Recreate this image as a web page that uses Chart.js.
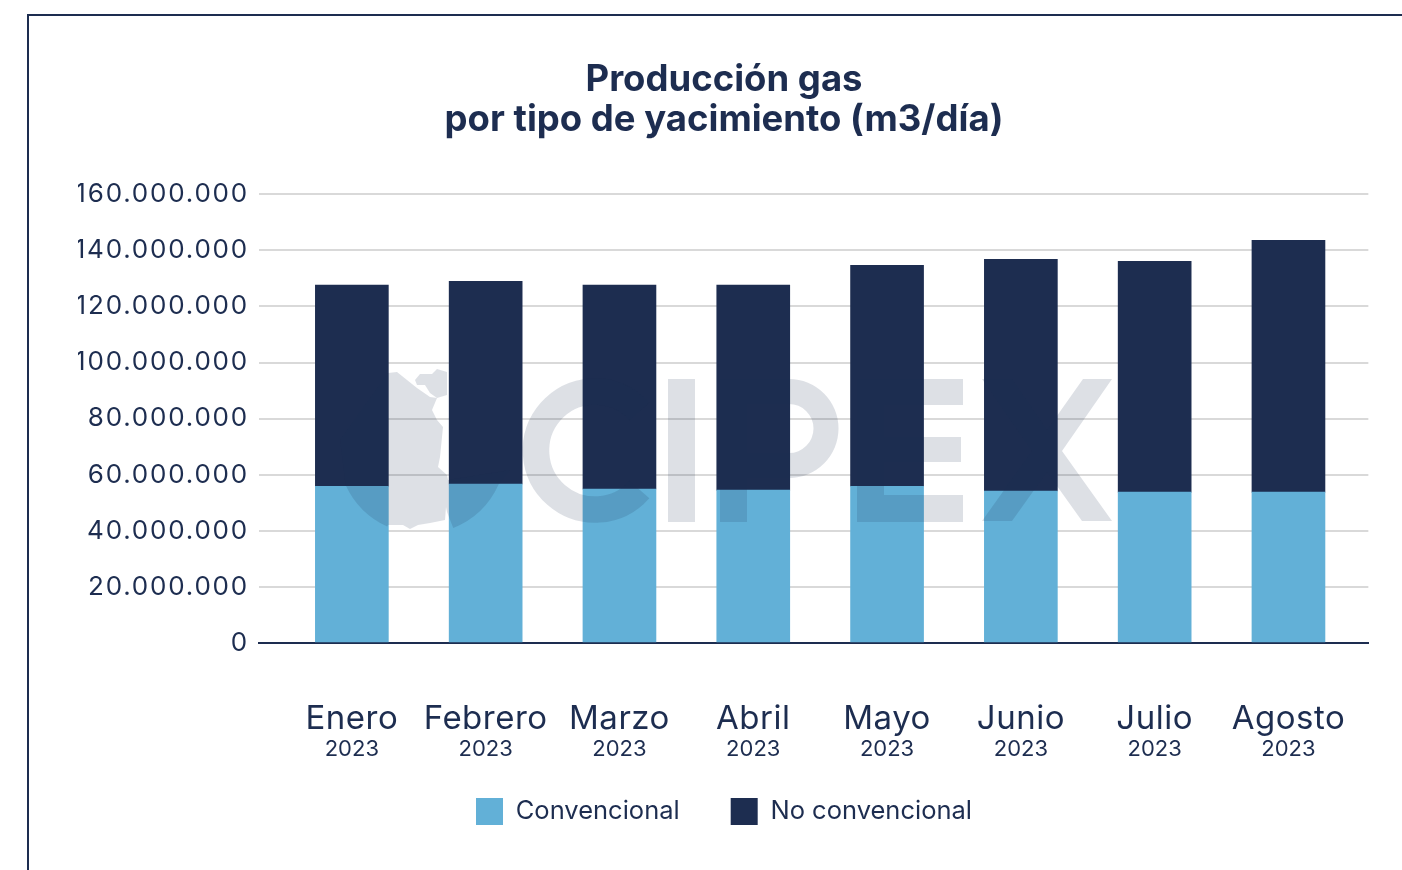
<!DOCTYPE html>
<html><head><meta charset="utf-8">
<style>html,body{margin:0;padding:0;background:#fff}#w{position:relative;width:1402px;height:870px;overflow:hidden}canvas{position:absolute;left:0;top:0}</style>
<script src="https://cdn.jsdelivr.net/npm/chart.js@4"></script></head>
<body><div id="w"><canvas id="c" width="1402" height="870"></canvas></div>
<script>
const months=['Enero','Febrero','Marzo','Abril','Mayo','Junio','Julio','Agosto'];
const years=['2023','2023','2023','2023','2023','2023','2023','2023'];
const convencional=[55900000,56700000,54900000,54500000,55900000,54200000,53800000,53800000];
const noConvencional=[71700000,72300000,72700000,73100000,78800000,82600000,82300000,89800000];
const titleLines=['Producción gas','por tipo de yacimiento (m3/día)'];
const NAVY='#1d2d50',BLUE='#62b0d7',FF='Inter';
const pos=months.map((m,i)=>i+1);
const fmt=v=>String(v).replace(/\B(?=(\d{3})+$)/g,'.');
const poly=(c,p)=>{p.forEach((q,i)=>i?c.lineTo(q[0],q[1]):c.moveTo(q[0],q[1]));};
const spaced=(s,ls)=>{if(s._ls)return;s._ls=1;const d=s.drawLabels;s.drawLabels=function(a){const c=this.ctx;c.letterSpacing=ls;d.call(this,a);c.letterSpacing='0px';};};
const wm={id:'wm',afterDatasetsDraw(ch){const c=ch.ctx;c.save();c.fillStyle='rgba(29,45,80,0.15)';c.strokeStyle='rgba(29,45,80,0.15)';
 c.beginPath();
 poly(c,[[340,440],[388,373],[397,372],[417,388],[430,397],[437,398],[432,410],[437,420],[443,427],[440,457],[438,467],[447,475],[448,480],[510,470]]);
 c.arc(422,450,84,0.42,1.19);
 [[447,512],[446,507],[445,520],[430,523],[418,525],[410,529],[403,525],[388,525]].forEach(p=>c.lineTo(p[0],p[1]));
 c.arc(422,450,84,1.997,2.71);c.closePath();
 poly(c,[[415,380],[420,374],[432,374],[437,369],[447,372],[447,395],[437,398],[430,393],[425,385],[417,385]]);c.closePath();
 c.fill();
 c.lineWidth=26.5;c.beginPath();c.arc(595,450.5,59,0.72,-0.72);c.stroke();
 c.fillRect(668,379,27,143);
 c.beginPath();c.moveTo(720,379);c.lineTo(789,379);c.arc(789,428.5,49.5,-Math.PI/2,Math.PI/2);c.lineTo(747,478);c.lineTo(747,522);c.lineTo(720,522);c.closePath();
 c.moveTo(747,404);c.lineTo(747,453);c.lineTo(789,453);c.arc(789,428.5,24.5,Math.PI/2,-Math.PI/2,true);c.closePath();c.fill('evenodd');
 c.fillRect(857,379,106,26);c.fillRect(857,437,104,25);c.fillRect(857,495,106,27);c.fillRect(857,405,27,32);c.fillRect(857,462,27,33);
 c.beginPath();poly(c,[[982,379],[1012,379],[1047,430],[1083,379],[1112,379],[1062,451],[1112,521],[1082,521],[1047,472],[1012,521],[982,521],[1032,451]]);c.closePath();c.fill();
 c.restore();}};
const frame={id:'frame',beforeDraw(ch){const c=ch.ctx;c.save();c.strokeStyle=NAVY;c.lineWidth=2;c.beginPath();c.moveTo(28,870);c.lineTo(28,15);c.lineTo(1402,15);c.stroke();c.restore();},
 beforeLayout(ch){const l=ch.legend;if(l&&!l._fx){l._fx=1;const f=l.fit;l.fit=function(){f.call(this);this.height=62;};}},
 afterLayout(ch){if(ch.legend)ch.legend.top=747;}};
const sx={type:'linear',offset:false,min:0.306,max:8.597,afterBuildTicks(s){s.ticks=pos.map(v=>({value:v}));}};
new Chart(document.getElementById('c'),{type:'bar',
 data:{datasets:[
  {label:'Convencional',data:convencional.map((v,i)=>({x:pos[i],y:v})),backgroundColor:BLUE,barThickness:73,stack:'a'},
  {label:'No convencional',data:noConvencional.map((v,i)=>({x:pos[i],y:v})),backgroundColor:NAVY,barThickness:73,stack:'a'}]},
 options:{responsive:false,animation:false,
  layout:{padding:{left:78,right:32,top:0,bottom:34}},
  plugins:{tooltip:{enabled:false},
   title:{display:true,text:titleLines,color:NAVY,font:{family:FF,size:36.5,weight:'700',lineHeight:1.1},padding:{top:60,bottom:54}},
   legend:{position:'bottom',labels:{color:NAVY,font:{family:FF,size:25.5},boxWidth:27,boxHeight:27,padding:51}}},
  scales:{
   y:{min:0,max:160000000,stacked:true,afterFit(s){s.width=181;spaced(s,'1.8px');},
    ticks:{stepSize:20000000,color:NAVY,font:{family:FF,size:26},padding:10,callback:fmt},
    grid:{color:'#d9d9d9',lineWidth:2,drawTicks:false},border:{display:false}},
   x:{...sx,position:'bottom',afterFit(s){s.height=96;spaced(s,'0.5px');},grid:{display:false,drawTicks:false},border:{display:true,color:NAVY,width:2},ticks:{color:NAVY,padding:56,maxRotation:0,autoSkip:false,font:{family:FF,size:33},callback:(v)=>months[v-1]}},
   x2:{...sx,position:'bottom',afterFit(s){s.height=35},grid:{display:false,drawTicks:false},border:{display:false},ticks:{color:NAVY,padding:-3,maxRotation:0,autoSkip:false,font:{family:FF,size:22},callback:(v)=>years[v-1]}}
  }},plugins:[frame,wm]});
</script></body></html>
